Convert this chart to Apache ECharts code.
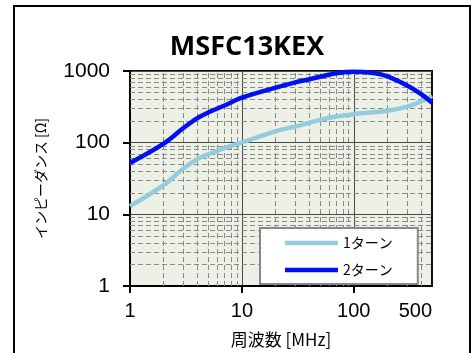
<!DOCTYPE html>
<html>
<head>
<meta charset="utf-8">
<script src="https://cdn.jsdelivr.net/npm/echarts@6/dist/echarts.min.js"></script>
<style>
html,body{margin:0;padding:0;background:#fff;}
#chart{width:476px;height:353px;}
</style>
</head>
<body>
<div id="chart"></div>
<script>
var chartTitle = 'MSFC13KEX';
var seriesNames = ['1ターン', '2ターン'];
var freq1 = [1, 2, 3, 4, 5, 7, 10, 20, 30, 50, 70, 100, 200, 300, 400, 500];
var turn1 = [13, 25.5, 43.5, 59, 69, 84, 101, 144, 168, 208, 232, 250, 278, 318, 375, 450];
var freq2 = [1, 2, 3, 4, 5, 7, 10, 20, 30, 50, 70, 100, 150, 200, 300, 400, 500];
var turn2 = [52, 97, 160, 220, 264, 330, 425, 585, 695, 830, 930, 975, 935, 840, 626, 475, 360];
var xTickValues = [1, 10, 100];
var xLabelValues = [1, 10, 100, 500];
var yTickValues = [1, 10, 100, 1000];
var xMinor = [2, 3, 4, 5, 6, 7, 8, 9, 20, 30, 40, 50, 60, 70, 80, 90, 200, 300, 400];
var yMinor = [2, 3, 4, 5, 6, 7, 8, 9, 20, 30, 40, 50, 60, 70, 80, 90, 200, 300, 400, 500, 600, 700, 800, 900];

function pairs(xs, ys) { return xs.map(function (x, i) { return [x, ys[i]]; }); }

var minorLines = [];
xMinor.forEach(function (v) { minorLines.push({ xAxis: v }); });
yMinor.forEach(function (v) { minorLines.push({ yAxis: v }); });

var chart = echarts.init(document.getElementById('chart'), null, { renderer: 'canvas' });
var latin = '"Liberation Sans", Arial, "Noto Sans CJK JP", sans-serif';
var option = {
  animation: false,
  title: {
    text: chartTitle,
    left: 242, textAlign: 'center', top: 29,
    textStyle: { fontFamily: '"Open Sans", "Liberation Sans", sans-serif', fontWeight: 'bold', fontSize: 27, color: '#000' }
  },
  graphic: [{
    type: 'rect', silent: true, z: 100,
    shape: { x: 14, y: 6, width: 456, height: 360 },
    style: { fill: 'none', stroke: '#000', lineWidth: 2 }
  }],
  grid: {
    left: 130, right: 44, top: 71, bottom: 66,
    show: true, backgroundColor: '#edf1e5', borderColor: '#111', borderWidth: 2
  },
  legend: {
    orient: 'vertical', left: 260, top: 228,
    data: seriesNames,
    icon: 'rect',
    itemWidth: 53, itemHeight: 4.5, itemGap: 11,
    padding: [7, 25, 6, 25],
    backgroundColor: '#fff', borderColor: '#888', borderWidth: 2, borderRadius: 0,
    textStyle: { fontFamily: '"Noto Sans CJK JP", sans-serif', fontSize: 14, lineHeight: 16, color: '#000' },
    z: 50
  },
  xAxis: {
    type: 'log', logBase: 10, min: 1, max: 500,
    name: '周波数 [MHz]', nameLocation: 'middle', nameGap: 45,
    nameTextStyle: { fontFamily: '"Noto Sans CJK JP", sans-serif', fontSize: 17, color: '#000' },
    axisLine: { show: true, lineStyle: { color: '#000', width: 2 } },
    axisTick: { show: true, length: 7, lineStyle: { color: '#000', width: 2 }, customValues: xTickValues },
    axisLabel: { customValues: xLabelValues, margin: 15, fontFamily: latin, fontSize: 20, color: '#000',
      alignMaxLabel: 'right', formatter: function (v) { return String(Math.round(v)); } },
    splitLine: { show: true, lineStyle: { color: '#4a4a4a', width: 1 } }
  },
  yAxis: {
    type: 'log', logBase: 10, min: 1, max: 1000,
    name: 'インピーダンス [Ω]', nameLocation: 'middle', nameGap: 82, nameRotate: 90,
    nameTextStyle: { fontFamily: '"Noto Sans CJK JP", sans-serif', fontSize: 14, color: '#000' },
    axisLine: { show: true, lineStyle: { color: '#000', width: 2 } },
    axisTick: { show: true, length: 7, lineStyle: { color: '#000', width: 2 }, customValues: yTickValues },
    axisLabel: { customValues: yTickValues, margin: 20, fontFamily: latin, fontSize: 21, color: '#000',
      formatter: function (v) { return String(Math.round(v)); } },
    splitLine: { show: true, lineStyle: { color: '#4a4a4a', width: 1 } }
  },
  series: [
    {
      name: 'minor', type: 'line', data: [], z: 1, silent: true,
      markLine: {
        z: 1,
        silent: true, symbol: ['none', 'none'], label: { show: false }, animation: false,
        lineStyle: { color: '#8a8a8a', width: 1, type: [5, 3] },
        emphasis: { disabled: true },
        data: minorLines
      }
    },
    {
      name: seriesNames[0], type: 'line', z: 3, smooth: 0.35, showSymbol: false, symbol: 'none',
      data: pairs(freq1, turn1),
      lineStyle: { color: '#93cddd', width: 4.5 }, itemStyle: { color: '#93cddd' }
    },
    {
      name: seriesNames[1], type: 'line', z: 4, smooth: 0.35, showSymbol: false, symbol: 'none',
      data: pairs(freq2, turn2),
      lineStyle: { color: '#0010f0', width: 4.5 }, itemStyle: { color: '#0010f0' }
    }
  ]
};
chart.setOption(option);
</script>
</body>
</html>
